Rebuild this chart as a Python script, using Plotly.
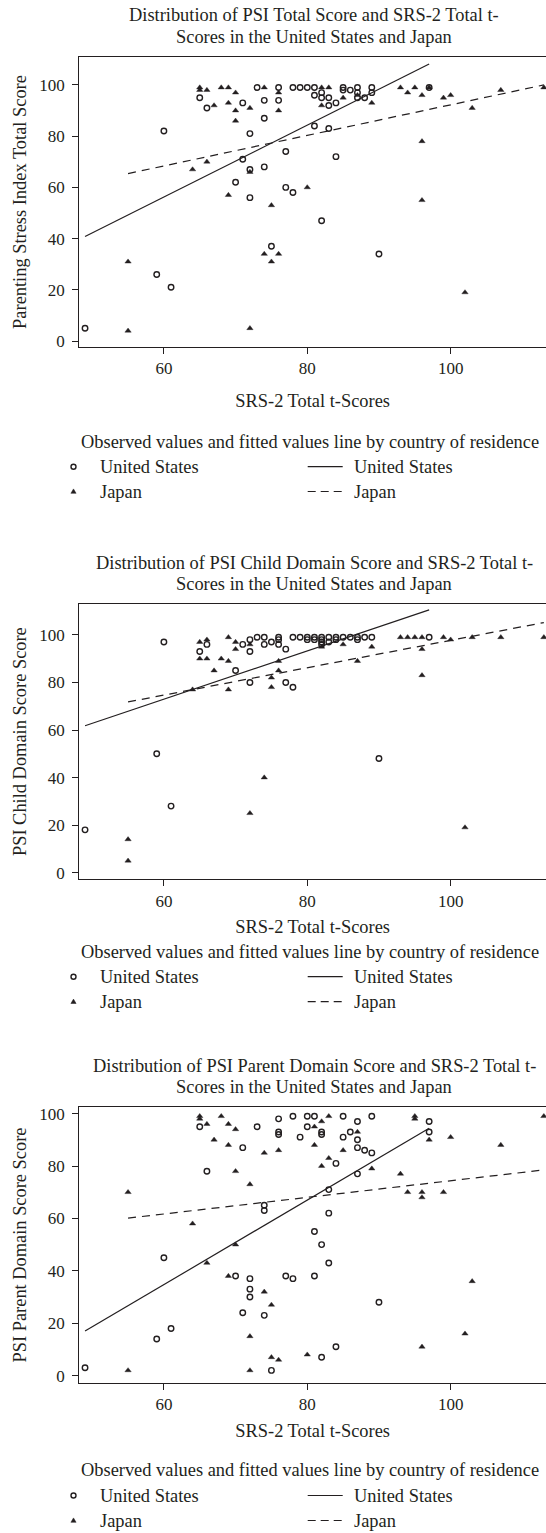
import plotly.graph_objects as go

W, H = 546, 1533
FONT = "Liberation Serif"
INK = "#231f20"

# ---------------- data ----------------
# Panel 1: PSI Total Score
p1_us_x = [49, 59, 61, 75, 90, 60, 65, 66, 71, 73, 74, 74, 72, 76, 76, 71, 72, 74, 70, 72, 77, 77, 78, 78, 79, 80,
           81, 81, 82, 82, 83, 83, 84, 81, 83, 84, 82, 85, 85, 86, 87, 87, 87, 88, 89, 89, 97]
p1_us_y = [5, 26, 21, 37, 34, 82, 95, 91, 93, 99, 94, 87, 81, 99, 94, 71, 67, 68, 62, 56, 74, 60, 58, 99, 99, 99,
           99, 96, 97, 95, 95, 92, 93, 84, 83, 72, 47, 99, 98, 98, 99, 97, 95, 95, 99, 97, 99]
p1_jp_x = [65, 65, 66, 68, 69, 70, 69, 70, 70, 67, 72, 74, 76, 76, 72, 64, 66, 69, 75, 80, 82, 83, 82, 85, 87, 89,
           93, 94, 95, 96, 97, 99, 100, 103, 107, 113, 96, 96, 74, 76, 75, 55, 55, 72, 102]
p1_jp_y = [99, 98, 98, 99, 99, 97, 93, 90, 86, 92, 91, 99, 97, 90, 66, 67, 70, 57, 53, 60, 99, 99, 92, 95, 96, 93,
           99, 97, 99, 96, 99, 95, 96, 91, 98, 99, 78, 55, 34, 34, 31, 31, 4, 5, 19]
p1_us_fit_x = [49, 97]
p1_us_fit_y = [40.8, 108.2]
p1_jp_fit_x = [55, 113]
p1_jp_fit_y = [65.4, 100.0]

# Panel 2: PSI Child Domain Score
p2_us_x = [60, 65, 66, 70, 71, 72, 72, 72, 73, 74, 74, 75, 76, 76, 76, 77, 77, 78, 78, 79, 80, 80, 81, 81, 82, 82,
           82, 82, 83, 83, 84, 84, 85, 86, 87, 87, 88, 89, 97, 59, 90, 49, 61]
p2_us_y = [97, 93, 96, 85, 96, 98, 93, 80, 99, 99, 96, 97, 99, 98, 96, 94, 80, 78, 99, 99, 99, 98, 99, 98, 99, 98,
           97, 96, 99, 97, 99, 98, 99, 99, 99, 98, 99, 99, 99, 50, 48, 18, 28]
p2_jp_x = [65, 66, 65, 66, 67, 68, 69, 69, 70, 70, 69, 64, 72, 74, 75, 75, 76, 76, 82, 85, 87, 89, 93, 94, 95, 96,
           96, 96, 99, 100, 103, 107, 113, 55, 55, 72, 102]
p2_jp_y = [97, 98, 90, 90, 85, 90, 99, 89, 97, 94, 77, 77, 96, 40, 82, 78, 89, 85, 95, 96, 89, 95, 99, 99, 99, 99,
           94, 83, 99, 98, 99, 99, 99, 14, 5, 25, 19]
p2_us_fit_x = [49, 97]
p2_us_fit_y = [61.8, 110.5]
p2_jp_fit_x = [55, 113]
p2_jp_fit_y = [71.8, 105.2]

# Panel 3: PSI Parent Domain Score
p3_us_x = [65, 66, 60, 71, 73, 74, 74, 70, 72, 72, 72, 76, 76, 76, 78, 79, 80, 80, 81, 82, 82, 81, 82, 83, 83, 83,
           77, 78, 81, 84, 85, 85, 86, 87, 87, 87, 87, 88, 89, 89, 97, 97, 49, 59, 61, 71, 74, 75, 82, 84, 90]
p3_us_y = [95, 78, 45, 87, 95, 65, 63, 38, 37, 33, 30, 98, 93, 92, 99, 91, 99, 95, 99, 93, 92, 55, 50, 62, 71, 43,
           38, 37, 38, 81, 99, 91, 93, 97, 90, 87, 77, 86, 85, 99, 97, 93, 3, 14, 18, 24, 23, 2, 7, 11, 28]
p3_jp_x = [65, 65, 66, 67, 68, 69, 69, 70, 70, 72, 74, 76, 55, 64, 66, 70, 69, 74, 81, 81, 82, 82, 83, 83, 85, 87,
           89, 93, 94, 95, 95, 96, 96, 97, 99, 100, 103, 107, 113, 55, 72, 72, 75, 75, 76, 80, 96, 102]
p3_jp_y = [99, 98, 96, 90, 99, 96, 88, 94, 78, 73, 85, 86, 70, 58, 43, 50, 38, 32, 95, 88, 97, 80, 99, 83, 86, 93,
           79, 77, 70, 99, 98, 70, 68, 90, 70, 91, 36, 88, 99, 2, 2, 15, 27, 7, 6, 8, 11, 16]
p3_us_fit_x = [49, 97]
p3_us_fit_y = [17.0, 94.4]
p3_jp_fit_x = [55, 113]
p3_jp_fit_y = [60.1, 78.5]

x_ticks = [60, 80, 100]
y_ticks = [0, 20, 40, 60, 80, 100]
x_title = "SRS-2 Total t-Scores"
y_titles = ["Parenting Stress Index Total Score", "PSI Child Domain Score Score", "PSI Parent Domain Score Score"]
titles = [
    ["Distribution of PSI Total Score and SRS-2 Total t-", "Scores in the United States and Japan"],
    ["Distribution of PSI Child Domain Score and SRS-2 Total t-", "Scores in the United States and Japan"],
    ["Distribution of PSI Parent Domain Score and SRS-2 Total t-", "Scores in the United States and Japan"],
]
legend_title = "Observed values and fitted values line by country of residence"
countries = ["United States", "Japan"]

panels = [
    (p1_us_x, p1_us_y, p1_jp_x, p1_jp_y, p1_us_fit_x, p1_us_fit_y, p1_jp_fit_x, p1_jp_fit_y),
    (p2_us_x, p2_us_y, p2_jp_x, p2_jp_y, p2_us_fit_x, p2_us_fit_y, p2_jp_fit_x, p2_jp_fit_y),
    (p3_us_x, p3_us_y, p3_jp_x, p3_jp_y, p3_us_fit_x, p3_us_fit_y, p3_jp_fit_x, p3_jp_fit_y),
]

# ---------------- layout geometry (pixels) ----------------
TXT = 18.4
TICK = 17
plot_left = 79.3
plot_tops = [57.3, 604.0, 1107.3]
plot_bottoms = [346.7, 879.3, 1382.7]
y_ranges = [[-2.2, 110.8], [-2.8, 113.0], [-2.7, 102.4]]
x_range = [48.2, 113.3]
title_lines_y = [[15.0, 37.3], [562.7, 584.0], [1065.7, 1087.3]]
title_cx = 314.0
legend_rows_y = [[441.7, 466.7, 491.5], [951.7, 976.7, 1001.7], [1469.5, 1495.5, 1520.5]]
x_title_standoff = [16, 10, 10]


def px(xp):
    return xp / W


def py(yp):
    return 1 - yp / H


fig = go.Figure()
annotations = []
shapes = []

for i, (usx, usy, jpx, jpy, ufx, ufy, jfx, jfy) in enumerate(panels):
    n = i + 1
    xa = "x" if n == 1 else f"x{n}"
    ya = "y" if n == 1 else f"y{n}"
    fig.add_trace(go.Scatter(x=usx, y=usy, mode="markers", xaxis=xa, yaxis=ya, name="United States",
                             showlegend=False, cliponaxis=False,
                             marker=dict(symbol="circle-open", size=5.5, color=INK, line=dict(width=1.4, color=INK))))
    fig.add_trace(go.Scatter(x=jpx, y=jpy, mode="markers", xaxis=xa, yaxis=ya, name="Japan",
                             showlegend=False, cliponaxis=False,
                             marker=dict(symbol="triangle-up", size=5.5, color=INK, line=dict(width=0.4, color=INK))))
    fig.add_trace(go.Scatter(x=ufx, y=ufy, mode="lines", xaxis=xa, yaxis=ya, name="United States (fitted)",
                             showlegend=False, line=dict(color=INK, width=1.2)))
    fig.add_trace(go.Scatter(x=jfx, y=jfy, mode="lines", xaxis=xa, yaxis=ya, name="Japan (fitted)",
                             showlegend=False, line=dict(color=INK, width=1.2, dash="8px,6px")))

    axis_common = dict(showline=True, linecolor=INK, linewidth=1.2, ticks="outside", ticklen=6, tickwidth=1.2,
                       tickcolor=INK, showgrid=False, zeroline=False, automargin=False,
                       tickfont=dict(family=FONT, size=TICK, color=INK))
    fig.layout[f"xaxis{'' if n == 1 else n}"] = dict(
        axis_common, domain=[px(plot_left), 1], range=x_range, tickvals=x_ticks, mirror=True,
        anchor=ya, title=dict(text=x_title, font=dict(family=FONT, size=TXT, color=INK), standoff=x_title_standoff[i]))
    fig.layout[f"yaxis{'' if n == 1 else n}"] = dict(
        axis_common, domain=[py(plot_bottoms[i]), py(plot_tops[i])], range=y_ranges[i], tickvals=y_ticks,
        anchor=xa, ticklabelstandoff=4,
        title=dict(text=y_titles[i], font=dict(family=FONT, size=TXT, color=INK), standoff=7))

    # chart titles
    for line_text, ly in zip(titles[i], title_lines_y[i]):
        annotations.append(dict(text=line_text, x=px(title_cx), y=py(ly), xref="paper", yref="paper",
                                xanchor="center", yanchor="middle", showarrow=False,
                                font=dict(family=FONT, size=TXT, color=INK)))

    # custom legend
    ty, r1, r2 = legend_rows_y[i]
    annotations.append(dict(text=legend_title, x=px(79.0), y=py(ty), xref="paper", yref="paper",
                            xanchor="left", yanchor="middle", showarrow=False,
                            font=dict(family=FONT, size=TXT, color=INK)))
    for label, ry in zip(countries, [r1, r2]):
        for lx in [98.0, 351.5]:
            annotations.append(dict(text=label, x=px(lx), y=py(ry), xref="paper", yref="paper",
                                    xanchor="left", yanchor="middle", showarrow=False,
                                    font=dict(family=FONT, size=TXT, color=INK)))
    # legend symbols
    shapes.append(dict(type="circle", xref="paper", yref="paper", xsizemode="pixel", ysizemode="pixel",
                       xanchor=px(73.5), yanchor=py(r1), x0=-2.5, x1=2.5, y0=-2.5, y1=2.5,
                       line=dict(color=INK, width=1.4)))
    shapes.append(dict(type="path", xref="paper", yref="paper", xsizemode="pixel", ysizemode="pixel",
                       xanchor=px(73.5), yanchor=py(r2), path="M -2.6,-1.8 L 2.6,-1.8 L 0,2.6 Z",
                       fillcolor=INK, line=dict(color=INK, width=0.5)))
    shapes.append(dict(type="line", xref="paper", yref="paper", x0=px(307.7), x1=px(342.7), y0=py(r1), y1=py(r1),
                       line=dict(color=INK, width=1.2)))
    shapes.append(dict(type="line", xref="paper", yref="paper", x0=px(307.7), x1=px(342.7), y0=py(r2), y1=py(r2),
                       line=dict(color=INK, width=1.2, dash="8px,5px")))

fig.update_layout(
    width=W, height=H, margin=dict(l=0, r=0, t=0, b=0, autoexpand=False),
    paper_bgcolor="white", plot_bgcolor="white",
    showlegend=False, annotations=annotations, shapes=shapes,
    font=dict(family=FONT, size=TXT, color=INK),
)

# remove the browser's default 8px body margin so the figure sits at the page origin
fig.write_html("out.html", config={"displayModeBar": False},
               post_script="document.body.style.margin='0px';document.body.style.overflow='hidden';")
